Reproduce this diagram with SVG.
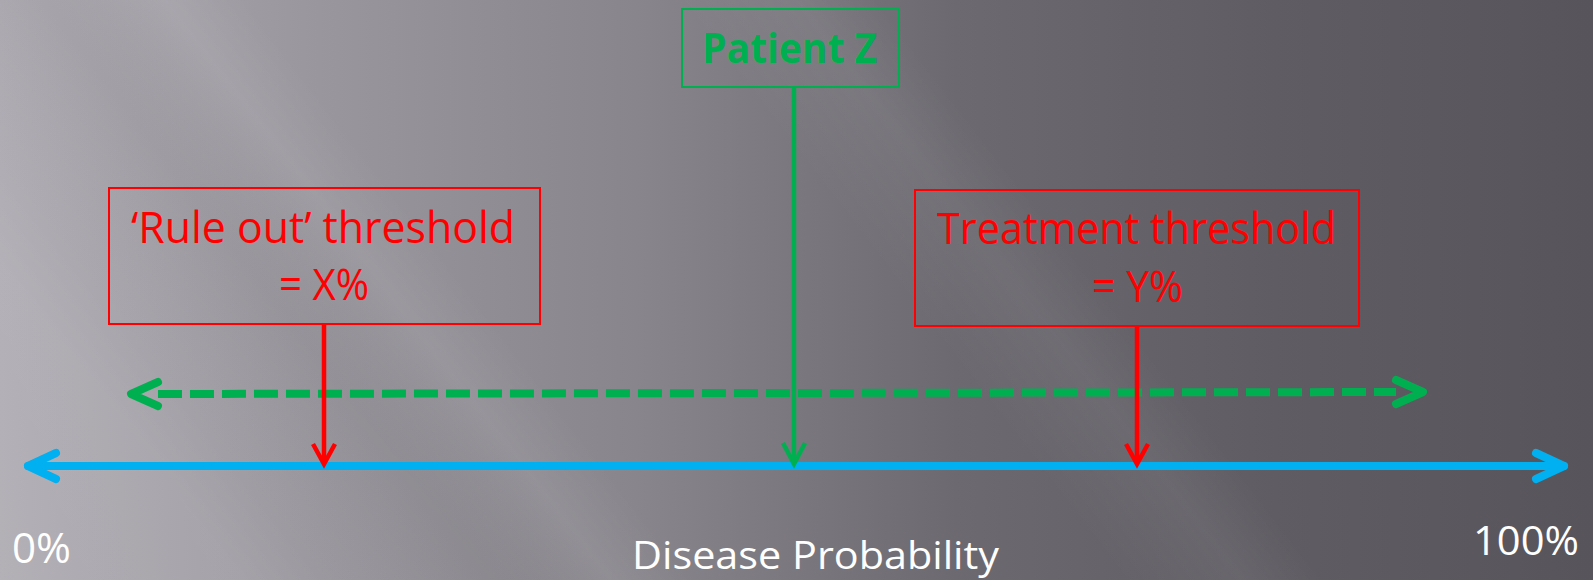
<svg xmlns="http://www.w3.org/2000/svg" width="1593" height="580" viewBox="0 0 1593 580">
  <defs>
    <linearGradient id="bg" x1="0" y1="0" x2="1593" y2="0" gradientUnits="userSpaceOnUse">
      <stop offset="0" stop-color="#aeabb2"/>
      <stop offset="0.2" stop-color="#99969d"/>
      <stop offset="0.4" stop-color="#88868c"/>
      <stop offset="0.6" stop-color="#6c6a70"/>
      <stop offset="0.8" stop-color="#5f5d63"/>
      <stop offset="1" stop-color="#57555b"/>
    </linearGradient>
    <linearGradient id="streak" x1="0" y1="580" x2="1281" y2="-405" gradientUnits="userSpaceOnUse">
      <stop offset="0" stop-color="#ffffff" stop-opacity="0.06"/>
      <stop offset="0.12" stop-color="#ffffff" stop-opacity="0.07"/>
      <stop offset="0.16" stop-color="#ffffff" stop-opacity="0.02"/>
      <stop offset="0.24" stop-color="#000000" stop-opacity="0.03"/>
      <stop offset="0.30" stop-color="#ffffff" stop-opacity="0.06"/>
      <stop offset="0.34" stop-color="#ffffff" stop-opacity="0"/>
      <stop offset="0.55" stop-color="#ffffff" stop-opacity="0"/>
      <stop offset="0.61" stop-color="#ffffff" stop-opacity="0.05"/>
      <stop offset="0.65" stop-color="#ffffff" stop-opacity="0"/>
      <stop offset="1" stop-color="#ffffff" stop-opacity="0"/>
    </linearGradient>
  </defs>
  <style>
    .box-red { fill: none; stroke: #ff0000; stroke-width: 2; }
    .box-green { fill: none; stroke: #00b050; stroke-width: 2; }
    .t { font-family: "Open Sans", "Noto Sans", "Liberation Sans", sans-serif; }
    .red { fill: #ff0000; font-size: 44px; }
    .green { fill: #00b050; font-size: 42px; font-weight: bold; }
    .white { fill: #ffffff; }
    .axis { fill: none; stroke: #00b0f0; stroke-width: 8; stroke-linecap: round; stroke-linejoin: round; }
    .range { fill: none; stroke: #00b050; stroke-width: 8; stroke-linecap: round; stroke-linejoin: round; }
    .dash { fill: none; stroke: #00b050; stroke-width: 8; stroke-dasharray: 24 8; }
    .rline { fill: none; stroke: #ff0000; stroke-width: 4.5; }
    .gline { fill: none; stroke: #00b050; stroke-width: 4.5; }
  </style>

  <rect x="0" y="0" width="1593" height="580" fill="url(#bg)"/>
  <rect x="0" y="0" width="1593" height="580" fill="url(#streak)"/>

  <g id="connectors">
    <!-- probability axis -->
    <line class="axis" x1="28" y1="466" x2="1564" y2="466"/>
    <polyline class="axis" points="56,453 28,466 56,479"/>
    <polyline class="axis" points="1536,453 1564,466 1536,479"/>
    <!-- dashed range -->
    <line class="dash" x1="158" y1="394" x2="1396" y2="392"/>
    <polyline class="range" points="158,382 131,394 158,406"/>
    <polyline class="range" points="1396,380 1423,392 1396,404"/>
    <!-- threshold arrows -->
    <line class="rline" x1="324" y1="325" x2="324" y2="462"/>
    <polyline class="rline" points="313,444 324,464 335,444"/>
    <line class="rline" x1="1137" y1="327" x2="1137" y2="462"/>
    <polyline class="rline" points="1126,444 1137,464 1148,444"/>
    <!-- patient arrow -->
    <line class="gline" x1="794" y1="88" x2="794" y2="462"/>
    <polyline class="gline" points="783,443 794,464 805,443"/>
  </g>

  <g id="patient-z">
    <rect class="box-green" x="682" y="9" width="217" height="78"/>
    <text class="t green" x="702" y="63" textLength="175" lengthAdjust="spacingAndGlyphs">Patient Z</text>
  </g>

  <g id="rule-out-threshold">
    <rect class="box-red" x="109" y="188" width="431" height="136"/>
    <text class="t red" x="131" y="243" textLength="384" lengthAdjust="spacingAndGlyphs">‘Rule out’ threshold</text>
    <text class="t red" x="279" y="300" textLength="90" lengthAdjust="spacingAndGlyphs">= X%</text>
  </g>

  <g id="treatment-threshold">
    <rect class="box-red" x="915" y="190" width="444" height="136"/>
    <text class="t red" x="937" y="244" textLength="399" lengthAdjust="spacingAndGlyphs">Treatment threshold</text>
    <text class="t red" x="1092" y="302" textLength="91" lengthAdjust="spacingAndGlyphs">= Y%</text>
  </g>

  <g id="axis-labels">
    <text class="t white" x="12" y="563" font-size="42" textLength="59" lengthAdjust="spacingAndGlyphs">0%</text>
    <text class="t white" x="1473" y="555" font-size="40" textLength="106" lengthAdjust="spacingAndGlyphs">100%</text>
    <text class="t white" x="632" y="569" font-size="38" textLength="367" lengthAdjust="spacingAndGlyphs">Disease Probability</text>
  </g>
</svg>
